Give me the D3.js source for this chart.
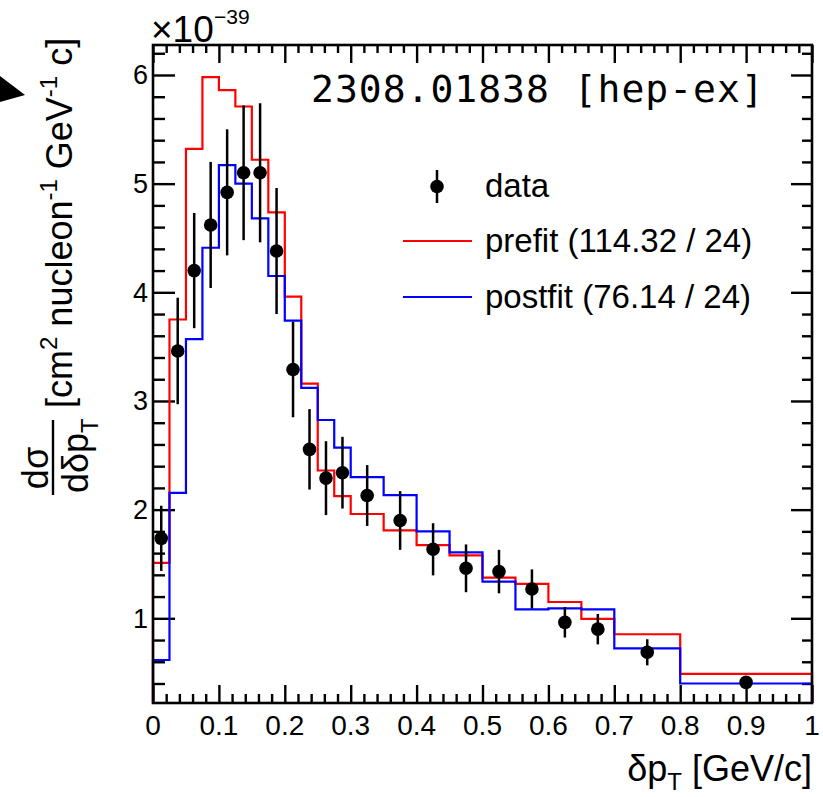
<!DOCTYPE html>
<html>
<head>
<meta charset="utf-8">
<script src="https://cdn.jsdelivr.net/npm/d3@7"></script>
<style>
  body { margin: 0; background: #fff; }
  text { font-family: "Liberation Sans", Arial, sans-serif; fill: #000; }
</style>
</head>
<body>
<script>
var width = 823, height = 797;

// bin edges of the histogram (variable width)
var binEdges = [0, 0.025, 0.05, 0.075, 0.1, 0.125, 0.15, 0.175, 0.2, 0.225, 0.25, 0.275, 0.3,
                0.35, 0.4, 0.45, 0.5, 0.55, 0.6, 0.65, 0.7, 0.8, 1.0];

var prefit = [1.51, 3.75, 5.32, 5.98, 5.86, 5.71, 5.22, 4.735, 3.96, 3.16, 2.36, 2.125,
              1.96, 1.81, 1.674, 1.58, 1.374, 1.316, 1.15, 0.994, 0.853, 0.488];
var postfit = [0.616, 2.155, 3.57, 4.41, 5.17, 5.0, 4.68, 4.15, 3.74, 3.12, 2.825, 2.57,
               2.30, 2.134, 1.80, 1.607, 1.337, 1.083, 1.092, 1.083, 0.724, 0.40];
var dataVal = [1.736, 3.46, 4.20, 4.62, 4.92, 5.10, 5.10, 4.38, 3.29, 2.555, 2.29, 2.34,
               2.13, 1.90, 1.635, 1.46, 1.43, 1.27, 0.963, 0.90, 0.687, 0.41];
var dataErr = [0.30, 0.49, 0.53, 0.58, 0.58, 0.62, 0.64, 0.58, 0.44, 0.37, 0.34, 0.33,
               0.28, 0.27, 0.24, 0.22, 0.20, 0.18, 0.14, 0.14, 0.12, 0.05];

var xMajor = [0, 0.1, 0.2, 0.3, 0.4, 0.5, 0.6, 0.7, 0.8, 0.9, 1];
var xLabels = ["0", "0.1", "0.2", "0.3", "0.4", "0.5", "0.6", "0.7", "0.8", "0.9", "1"];
var yMajor = [1, 2, 3, 4, 5, 6];

var legendNames = ["data", "prefit (114.32 / 24)", "postfit (76.14 / 24)"];

var pLeft = 153, pRight = 812, pTop = 45, pBottom = 703;

var x = d3.scaleLinear().domain([0, 1]).range([pLeft, pRight]);
var y = d3.scaleLinear().domain([0.2205, 6.276]).range([pBottom, pTop]);

var svg = d3.select("body").append("svg")
    .attr("width", width)
    .attr("height", height);

// minor tick positions
var xMinor = d3.range(0, 1.0001, 0.02).filter(function(v) {
    return Math.abs(v * 10 - Math.round(v * 10)) > 1e-6;
});
var yMinor = d3.range(0.4, 6.25, 0.2).filter(function(v) {
    return Math.abs(v - Math.round(v)) > 1e-6;
});

function drawAxis(axis, tx, ty) {
    var g = svg.append("g")
        .attr("transform", "translate(" + tx + "," + ty + ")")
        .call(axis);
    g.select(".domain").remove();
    g.selectAll(".tick line").attr("stroke", "#000").attr("stroke-width", 2.4);
    return g;
}

// ticks on all four sides, pointing inwards
drawAxis(d3.axisBottom(x).tickValues(xMajor).tickSize(-18).tickFormat(""), 0, pBottom);
drawAxis(d3.axisBottom(x).tickValues(xMinor).tickSize(-9).tickFormat(""), 0, pBottom);
drawAxis(d3.axisTop(x).tickValues(xMajor).tickSize(-18).tickFormat(""), 0, pTop);
drawAxis(d3.axisTop(x).tickValues(xMinor).tickSize(-8).tickFormat(""), 0, pTop);
drawAxis(d3.axisLeft(y).tickValues(yMajor).tickSize(-22).tickFormat(""), pLeft, 0);
drawAxis(d3.axisLeft(y).tickValues(yMinor).tickSize(-12).tickFormat(""), pLeft, 0);
drawAxis(d3.axisRight(y).tickValues(yMajor).tickSize(-21).tickFormat(""), pRight, 0);
drawAxis(d3.axisRight(y).tickValues(yMinor).tickSize(-10).tickFormat(""), pRight, 0);

// tick labels
svg.selectAll(".xlab").data(xMajor).enter().append("text")
    .attr("x", function(d) { return x(d); })
    .attr("y", 735)
    .attr("text-anchor", "middle")
    .style("font-size", "28px")
    .text(function(d, i) { return xLabels[i]; });

svg.selectAll(".ylab").data(yMajor).enter().append("text")
    .attr("x", 148)
    .attr("y", function(d) { return y(d) + 9.5; })
    .attr("text-anchor", "end")
    .style("font-size", "27px")
    .text(function(d) { return d; });

// exponent
svg.append("text").attr("x", 151).attr("y", 42).style("font-size", "37px").text("\u00d710");
svg.append("text").attr("x", 214).attr("y", 24).style("font-size", "21px").text("\u221239");

// histograms
function stepPoints(vals) {
    var pts = [[binEdges[0], y.domain()[0]]];
    vals.forEach(function(v, i) { pts.push([binEdges[i], v]); });
    pts.push([binEdges[binEdges.length - 1], vals[vals.length - 1]]);
    pts.push([binEdges[binEdges.length - 1], y.domain()[0]]);
    return pts;
}
var step = d3.line()
    .x(function(d) { return x(d[0]); })
    .y(function(d) { return y(d[1]); })
    .curve(d3.curveStepAfter);

svg.append("path").attr("d", step(stepPoints(prefit)))
    .attr("fill", "none").attr("stroke", "#ff0000").attr("stroke-width", 2.2);
svg.append("path").attr("d", step(stepPoints(postfit)))
    .attr("fill", "none").attr("stroke", "#0000ff").attr("stroke-width", 2.2);

// data points
var pts = dataVal.map(function(v, i) {
    return { cx: (binEdges[i] + binEdges[i + 1]) / 2, v: v, e: dataErr[i] };
});
svg.selectAll(".err").data(pts).enter().append("line")
    .attr("x1", function(d) { return x(d.cx); })
    .attr("x2", function(d) { return x(d.cx); })
    .attr("y1", function(d) { return y(Math.max(d.v - d.e, y.domain()[0])); })
    .attr("y2", function(d) { return y(d.v + d.e); })
    .attr("stroke", "#000").attr("stroke-width", 2.5);
svg.selectAll(".pt").data(pts).enter().append("circle")
    .attr("cx", function(d) { return x(d.cx); })
    .attr("cy", function(d) { return y(d.v); })
    .attr("r", 6.8)
    .attr("fill", "#000");

// frame
svg.append("rect")
    .attr("x", pLeft).attr("y", pTop)
    .attr("width", pRight - pLeft).attr("height", pBottom - pTop)
    .attr("fill", "none").attr("stroke", "#000").attr("stroke-width", 2.6);

// legend
var leg = svg.append("g");
leg.append("line").attr("x1", 437).attr("x2", 437).attr("y1", 170).attr("y2", 203)
    .attr("stroke", "#000").attr("stroke-width", 2.5);
leg.append("circle").attr("cx", 437).attr("cy", 186.5).attr("r", 6.8).attr("fill", "#000");
leg.append("line").attr("x1", 403).attr("x2", 472).attr("y1", 241).attr("y2", 241)
    .attr("stroke", "#ff0000").attr("stroke-width", 2.2);
leg.append("line").attr("x1", 403).attr("x2", 472).attr("y1", 297).attr("y2", 297)
    .attr("stroke", "#0000ff").attr("stroke-width", 2.2);
[197, 252, 308].forEach(function(by, i) {
    leg.append("text").attr("x", 485).attr("y", by)
        .style("font-size", "33px").text(legendNames[i]);
});

// arXiv label
svg.append("text").attr("x", 311).attr("y", 102)
    .style("font-family", "'DejaVu Sans Mono', monospace")
    .style("font-size", "38px")
    .style("letter-spacing", "1px")
    .text("2308.01838 [hep-ex]");

// x title
var xt = svg.append("text").attr("x", 812).attr("y", 781)
    .attr("text-anchor", "end").style("font-size", "36px");
xt.append("tspan").text("\u03b4p");
xt.append("tspan").attr("dy", 9).style("font-size", "24px").text("T");
xt.append("tspan").attr("dy", -9).text(" [GeV/c]");

// y title (rotated), local x = -screenY, local y = screenX
var yt = svg.append("g").attr("transform", "rotate(-90)");
yt.append("text").attr("x", -468).attr("y", 48)
    .attr("text-anchor", "middle").style("font-size", "36px").text("d\u03c3");
yt.append("line").attr("x1", -495).attr("x2", -420).attr("y1", 53).attr("y2", 53)
    .attr("stroke", "#000").attr("stroke-width", 2.4);
var den = yt.append("text").attr("x", -493).attr("y", 88).style("font-size", "36px");
den.append("tspan").text("d\u03b4p");
den.append("tspan").attr("dy", 10).style("font-size", "24px").text("T");

var br = yt.append("text").attr("x", -408).attr("y", 72).style("font-size", "36px");
br.append("tspan").text("[cm");
br.append("tspan").attr("dy", -15).style("font-size", "24px").text("2");
br.append("tspan").attr("dy", 15).text(" nucleon");
br.append("tspan").attr("dy", -15).style("font-size", "24px").text("-1");
br.append("tspan").attr("dy", 15).text(" GeV");
br.append("tspan").attr("dy", -15).style("font-size", "24px").text("-1");
br.append("tspan").attr("dy", 15).text(" c]");

// arrow mark at the left edge
svg.append("path").attr("d", "M0,76L25,95L0,102Z").attr("fill", "#000");
</script>
</body>
</html>
